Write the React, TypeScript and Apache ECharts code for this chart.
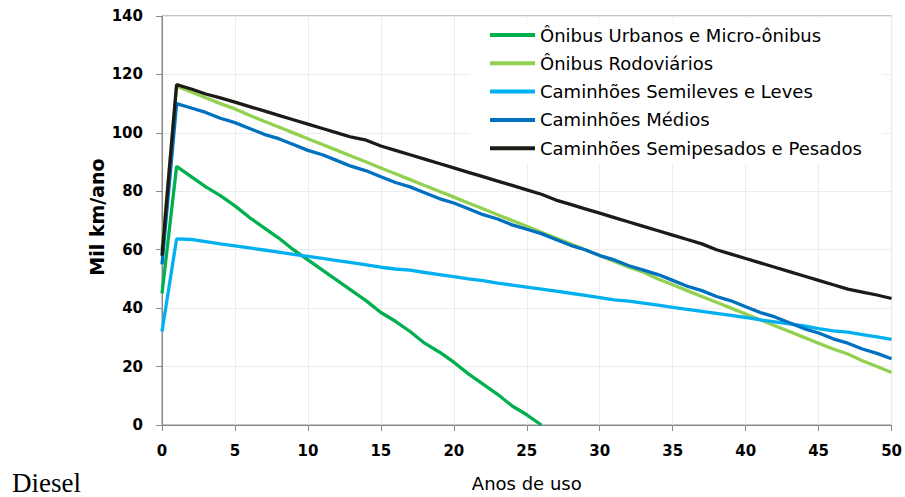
import React, { useEffect, useRef } from "react";
import * as echarts from "echarts";

const years = [0,1,2,3,4,5,6,7,8,9,10,11,12,13,14,15,16,17,18,19,20,21,22,23,24,25,26,27,28,29,30,31,32,33,34,35,36,37,38,39,40,41,42,43,44,45,46,47,48,49,50];

const seriesNames = [
  "Ônibus Urbanos e Micro-ônibus",
  "Ônibus Rodoviários",
  "Caminhões Semileves e Leves",
  "Caminhões Médios",
  "Caminhões Semipesados e Pesados",
];
const seriesColors = ["#00B050", "#92D050", "#00B0F0", "#0070C0", "#1C1B17"];

const onibusUrbanos = [45,88.5,85,81.5,78.5,75,71,67.5,64,60,56.5,53,49.5,46,42.5,38.5,35.5,32,28,25,21.5,17.5,14,10.5,6.5,3.5,0];
const onibusRodoviarios = [60,116,114,112,110,108.2,106,104,102,100,98,96,94,92,90,88,86,84,82,80,78,76,74,72,70,68,66,64,62,60,58,56,54,52.3,50,48,46,44,42,40,38,36,34,32,30,28,26,24.3,22,20,18];
const caminhoesLeves = [32,63.7,63.5,62.8,62,61.3,60.6,59.9,59.2,58.4,57.7,57,56.3,55.6,54.8,54,53.4,53,52.2,51.5,50.8,50,49.4,48.6,47.9,47.2,46.5,45.8,45.1,44.4,43.6,42.8,42.4,41.7,41,40.3,39.6,38.9,38.2,37.5,36.8,36,35.3,34.6,33.9,33,32.2,31.8,30.9,30.2,29.3];
const caminhoesMedios = [55,110,108.5,107,105,103.5,101.5,99.5,98,96,94,92.5,90.5,88.5,87,85,83,81.5,79.5,77.5,76,74,72,70.5,68.5,67,65.5,63.5,61.5,60,58,56.5,54.5,53,51.5,49.5,47.5,46,44,42.5,40.5,38.5,37,35,33,31.5,29.5,28,26,24.5,22.7];
const caminhoesPesados = [58,116.5,115,113.3,112,110.5,109,107.5,106,104.5,103,101.5,100,98.5,97.5,95.5,94,92.5,91,89.5,88,86.5,85,83.5,82,80.5,79,77,75.5,74,72.5,71,69.5,68,66.5,65,63.5,62,60,58.5,57,55.5,54,52.5,51,49.5,48,46.5,45.5,44.5,43.3];

const allValues = [onibusUrbanos, onibusRodoviarios, caminhoesLeves, caminhoesMedios, caminhoesPesados];

const xTitle = "Anos de uso";
const yTitle = "Mil km/ano";
const footText = "Diesel";

export default function App() {
  const ref = useRef<HTMLDivElement>(null);
  useEffect(() => {
    if (!ref.current) return;
    const chart = echarts.init(ref.current, null, { renderer: "svg" });
    const axisColor = "#898989";
    const gridColor = "#ECECEC";
    chart.setOption({
      animation: false,
      backgroundColor: "#ffffff",
      grid: {
        left: 162,
        right: 12,
        top: 16,
        bottom: 70,
        show: true,
        borderColor: axisColor,
        borderWidth: 1,
        backgroundColor: "transparent",
      },
      legend: {
        orient: "vertical",
        left: 470,
        top: 19,
        padding: [6, 20, 6, 20],
        backgroundColor: "#ffffff",
        itemWidth: 45,
        itemHeight: 4,
        itemGap: 8.3,
        icon: "rect",
        textStyle: {
          fontFamily: "DejaVu Sans",
          fontSize: 18,
          color: "#000000",
          lineHeight: 20,
        },
        data: seriesNames,
      },
      xAxis: {
        type: "value",
        min: 0,
        max: 50,
        interval: 5,
        name: xTitle,
        nameLocation: "middle",
        nameGap: 49,
        nameTextStyle: { fontFamily: "DejaVu Sans", fontSize: 18, color: "#000000" },
        axisLine: { show: true, lineStyle: { color: axisColor, width: 1 } },
        axisTick: { show: true, length: 6, lineStyle: { color: axisColor } },
        axisLabel: {
          margin: 18,
          fontFamily: "DejaVu Sans",
          fontWeight: "bold",
          fontSize: 15,
          color: "#000000",
        },
        splitLine: { show: true, lineStyle: { color: gridColor, width: 1 } },
      },
      yAxis: {
        type: "value",
        min: 0,
        max: 140,
        interval: 20,
        axisLine: { show: true, lineStyle: { color: axisColor, width: 1 } },
        axisTick: { show: true, length: 6, lineStyle: { color: axisColor } },
        axisLabel: {
          margin: 19,
          fontFamily: "DejaVu Sans",
          fontWeight: "bold",
          fontSize: 15,
          color: "#000000",
        },
        splitLine: { show: true, lineStyle: { color: gridColor, width: 1 } },
      },
      graphic: [
        {
          type: "text",
          x: 97,
          y: 217,
          rotation: Math.PI / 2,
          style: {
            text: yTitle,
            fontFamily: "DejaVu Sans",
            fontWeight: "bold",
            fontSize: 19,
            fill: "#000000",
            align: "center",
            verticalAlign: "middle",
          },
        },
        {
          type: "text",
          x: 12,
          y: 483,
          style: {
            text: footText,
            fontFamily: "Liberation Serif",
            fontSize: 27,
            fill: "#000000",
            align: "left",
            verticalAlign: "middle",
          },
        },
      ],
      series: seriesNames.map((name, i) => ({
        name,
        type: "line",
        showSymbol: false,
        symbol: "none",
        data: allValues[i].map((v, k) => [years[k], v]),
        lineStyle: { color: seriesColors[i], width: 3.3 },
        itemStyle: { color: seriesColors[i] },
        z: 2 + i,
      })),
    });
    return () => chart.dispose();
  }, []);
  return (
    <div
      ref={ref}
      style={{ position: "fixed", left: 0, top: 0, width: 905, height: 497 }}
    />
  );
}
